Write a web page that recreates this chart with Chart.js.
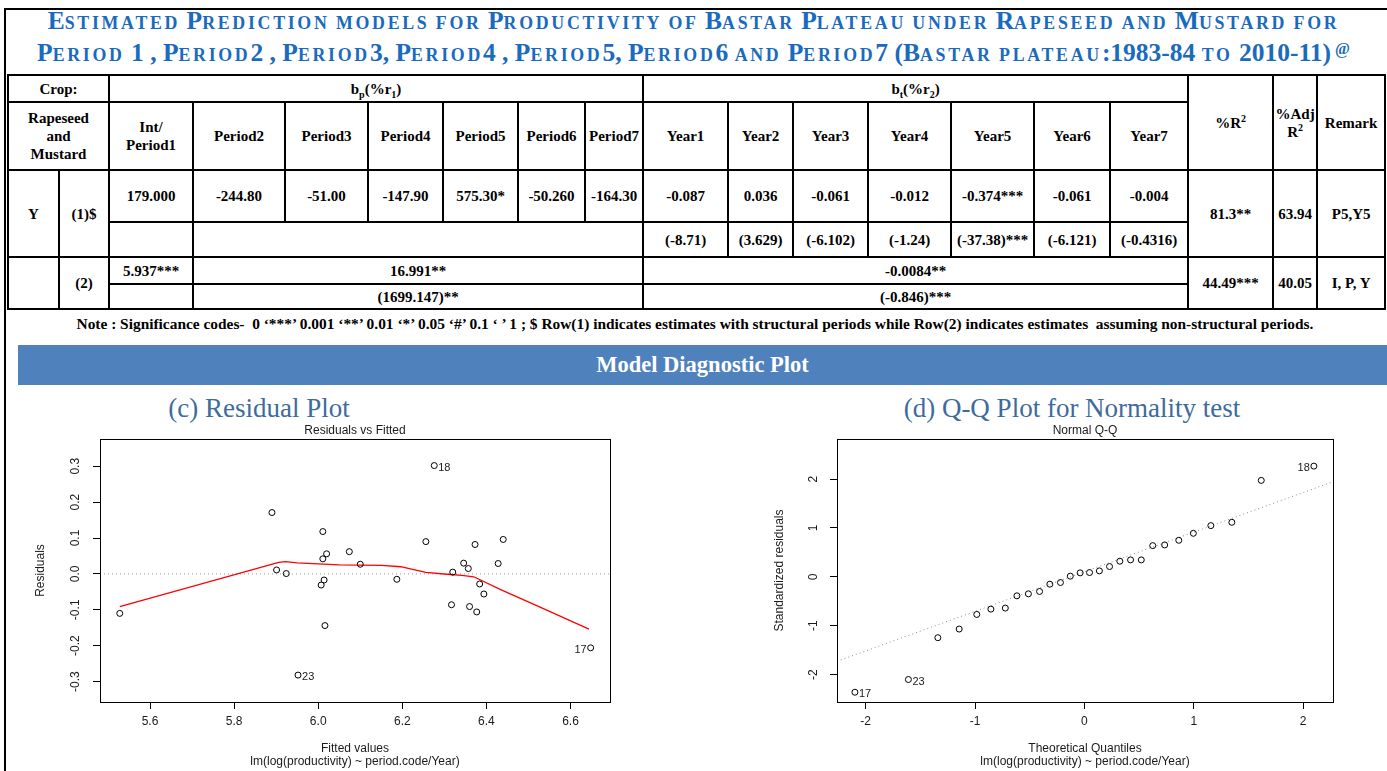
<!DOCTYPE html>
<html><head><meta charset="utf-8">
<script src="https://cdn.jsdelivr.net/npm/chart.js@4.4.1/dist/chart.umd.min.js"></script>
<style>
html,body{margin:0;padding:0;background:#fff;}
body{width:1387px;height:771px;position:relative;overflow:hidden;font-family:'Liberation Serif','Times New Roman',serif;}
#frame{position:absolute;left:4px;top:8px;width:1383px;height:763px;border-top:2px solid #000;border-left:2px solid #000;box-sizing:border-box;}
#title{position:absolute;left:0;top:6px;width:1387px;text-align:center;color:#1a6abd;font-weight:bold;font-size:25.5px;line-height:30px;white-space:nowrap;}
#title .sc{font-size:0.7em;text-transform:uppercase;letter-spacing:2.7px;}
#title sup{font-size:16px;vertical-align:top;position:relative;top:-4px;margin-left:4px;}
#tbl{position:absolute;left:7px;top:74px;border-collapse:collapse;table-layout:fixed;width:1377px;font-weight:bold;font-size:15px;}
#tbl td{border:2px solid #000;text-align:center;vertical-align:middle;padding:0;line-height:18px;overflow:hidden;white-space:nowrap;}
#tbl sub,#tbl sup{font-size:10px;line-height:0;}
#note{position:absolute;left:0;top:315px;width:1390px;text-align:center;font-weight:bold;font-size:15.4px;line-height:18px;white-space:nowrap;}
#banner{position:absolute;left:18px;top:345px;width:1369px;height:40px;background:#4f81bd;color:#fff;font-weight:bold;font-size:22.5px;line-height:40px;text-align:center;}
.sub{position:absolute;top:393px;font-size:27px;line-height:30px;color:#3d6b9c;white-space:nowrap;transform:translateX(-50%);}
canvas{position:absolute;top:420px;}
</style>
</head><body>
<div id="frame"></div>
<div id="title"><span id="t1">Estimated Prediction models for Productivity of Bastar Plateau under Rapeseed and Mustard for</span><br><span id="t2">Period 1 , Period2 , Period3, Period4 , Period5, Period6 and Period7 (Bastar plateau:1983-84 to 2010-11)</span><sup>@</sup></div>
<table id="tbl">
<colgroup>
<col style="width:51px"><col style="width:50px"><col style="width:84px"><col style="width:92px"><col style="width:83px"><col style="width:75px"><col style="width:75px"><col style="width:67px"><col style="width:58px"><col style="width:85px"><col style="width:65px"><col style="width:75px"><col style="width:83px"><col style="width:83px"><col style="width:76px"><col style="width:78px"><col style="width:85px"><col style="width:44px"><col style="width:68px">
</colgroup>
<tr style="height:27px"><td colspan="2">Crop:</td><td colspan="7">b<sub>p</sub>(%r<sub>1</sub>)</td><td colspan="7">b<sub>t</sub>(%r<sub>2</sub>)</td><td rowspan="2">%R<sup>2</sup></td><td rowspan="2">%Adj<br>R<sup>2</sup></td><td rowspan="2">Remark</td></tr>
<tr style="height:68px"><td colspan="2">Rapeseed<br>and<br>Mustard</td><td>Int/<br>Period1</td><td>Period2</td><td>Period3</td><td>Period4</td><td>Period5</td><td>Period6</td><td>Period7</td><td>Year1</td><td>Year2</td><td>Year3</td><td>Year4</td><td>Year5</td><td>Year6</td><td>Year7</td></tr>
<tr style="height:52px"><td rowspan="2">Y</td><td rowspan="2">(1)$</td><td>179.000</td><td>-244.80</td><td>-51.00</td><td>-147.90</td><td>575.30*</td><td>-50.260</td><td>-164.30</td><td>-0.087</td><td>0.036</td><td>-0.061</td><td>-0.012</td><td>-0.374***</td><td>-0.061</td><td>-0.004</td><td rowspan="2">81.3**</td><td rowspan="2">63.94</td><td rowspan="2">P5,Y5</td></tr>
<tr style="height:35px"><td></td><td colspan="6"></td><td>(-8.71)</td><td>(3.629)</td><td>(-6.102)</td><td>(-1.24)</td><td>(-37.38)***</td><td>(-6.121)</td><td>(-0.4316)</td></tr>
<tr style="height:27px"><td rowspan="2"></td><td rowspan="2">(2)</td><td>5.937***</td><td colspan="6">16.991**</td><td colspan="7">-0.0084**</td><td rowspan="2">44.49***</td><td rowspan="2">40.05</td><td rowspan="2">I, P, Y</td></tr>
<tr style="height:25px"><td></td><td colspan="6">(1699.147)**</td><td colspan="7">(-0.846)***</td></tr>
</table>
<div id="note">Note : Significance codes-&nbsp; 0 ‘***’ 0.001 ‘**’ 0.01 ‘*’ 0.05 ‘#’ 0.1 ‘ ’ 1 ; $ Row(1) indicates estimates with structural periods while Row(2) indicates estimates&nbsp; assuming non-structural periods.</div>
<div id="banner">Model Diagnostic Plot</div>
<div class="sub" style="left:259px">(c) Residual Plot</div>
<div class="sub" style="left:1072px">(d) Q-Q Plot for Normality test</div>
<canvas id="c1" width="640" height="351" style="left:0px"></canvas>
<canvas id="c2" width="647" height="351" style="left:740px"></canvas>
<script>
// ---------- Residuals vs Fitted ----------
const residFitted = [5.528,5.890,5.901,5.924,5.952,6.011,6.011,6.020,6.014,6.007,6.016,6.074,6.100,6.187,6.256,6.276,6.317,6.320,6.346,6.357,6.360,6.373,6.377,6.384,6.394,6.428,6.440,6.648];
const residValues = [-0.110,0.171,0.011,0.001,-0.282,0.118,0.042,0.056,-0.017,-0.031,-0.144,0.062,0.027,-0.015,0.090,0.302,-0.086,0.005,0.030,0.015,-0.091,0.082,-0.106,-0.028,-0.056,0.029,0.096,-0.206];
const lowessX = [5.528,5.906,5.922,5.950,6.050,6.151,6.196,6.256,6.306,6.342,6.370,6.434,6.525,6.644];
const lowessY = [-0.091,0.032,0.034,0.031,0.025,0.024,0.020,0.004,-0.001,-0.004,-0.008,-0.044,-0.091,-0.154];
const residXRange = [5.481, 6.694];
const residYRange = [-0.357, 0.376];
const residXTicks = [5.6,5.8,6.0,6.2,6.4,6.6];
const residXTickLabels = ['5.6','5.8','6.0','6.2','6.4','6.6'];
const residYTicks = [0.3,0.2,0.1,0.0,-0.1,-0.2,-0.3];
const residYTickLabels = ['0.3','0.2','0.1','0.0','-0.1','-0.2','-0.3'];
const residLabelIdx = [15,4,27];
const residLabelText = ['18','23','17'];
const residLabelSide = ['right','right','left'];

// ---------- Normal Q-Q ----------
const qqTheoretical = [-2.098,-1.609,-1.340,-1.145,-0.984,-0.855,-0.723,-0.617,-0.512,-0.410,-0.316,-0.219,-0.129,-0.039,0.047,0.137,0.230,0.324,0.422,0.520,0.625,0.734,0.863,0.996,1.156,1.348,1.617,2.098];
const qqStdResid = [-2.36,-2.10,-1.245,-1.068,-0.769,-0.660,-0.639,-0.388,-0.347,-0.299,-0.150,-0.116,0.014,0.082,0.088,0.122,0.211,0.320,0.347,0.347,0.639,0.653,0.748,0.891,1.048,1.116,1.973,2.265];
const qqLineX = [-2.262, 2.273];
const qqLineY = [-1.728, 1.946];
const qqXRange = [-2.262, 2.273];
const qqYRange = [-2.56, 2.82];
const qqXTicks = [-2,-1,0,1,2];
const qqXTickLabels = ['-2','-1','0','1','2'];
const qqYTicks = [2,1,0,-1,-2];
const qqYTickLabels = ['2','1','0','-1','-2'];
const qqLabelIdx = [0,1,27];
const qqLabelText = ['17','23','18'];
const qqLabelSide = ['right','right','left'];

// small caps for the title: lowercase runs rendered as smaller capitals (text stays as written)
['t1','t2'].forEach(id => {
  const el = document.getElementById(id);
  const txt = el.textContent;
  el.textContent = '';
  txt.split(/([a-z]+)/).forEach(part => {
    if (!part) return;
    if (/^[a-z]+$/.test(part)) { const s = document.createElement('span'); s.className = 'sc'; s.textContent = part; el.appendChild(s); }
    else el.appendChild(document.createTextNode(part));
  });
});

const SANS = '"Liberation Sans", Arial, sans-serif';
const zip = (xs, ys) => xs.map((x, i) => ({x, y: ys[i]}));

const rDecor = {
  id: 'rDecor',
  afterDraw(chart, args, o) {
    const {ctx, chartArea: a, scales: {y}} = chart;
    ctx.save();
    ctx.strokeStyle = '#000'; ctx.lineWidth = 1;
    ctx.strokeRect(Math.round(a.left) + 0.5, Math.round(a.top) + 0.5, Math.round(a.right - a.left), Math.round(a.bottom - a.top));
    ctx.fillStyle = '#1a1a1a';
    ctx.font = '12px ' + SANS;
    ctx.textAlign = 'center'; ctx.textBaseline = 'middle';
    const cx = (a.left + a.right) / 2;
    ctx.fillText(o.title, cx, o.titleY);
    ctx.fillText(o.xTitle, cx, o.xTitleY);
    ctx.fillText(o.xSub, cx, o.xSubY);
    ctx.save(); ctx.translate(o.yTitleX, (a.top + a.bottom) / 2); ctx.rotate(-Math.PI / 2); ctx.fillText(o.yTitle, 0, 0); ctx.restore();
    o.yTicks.forEach((v, i) => {
      const py = y.getPixelForValue(v);
      ctx.save(); ctx.translate(o.yTickX, py); ctx.rotate(-Math.PI / 2); ctx.fillText(o.yTickLabels[i], 0, 0); ctx.restore();
    });
    const meta = chart.getDatasetMeta(0);
    ctx.font = '11px ' + SANS;
    o.labelIdx.forEach((idx, k) => {
      const el = meta.data[idx];
      const right = o.labelSide[k] === 'right';
      ctx.textAlign = right ? 'left' : 'right';
      ctx.fillText(o.labelText[k], el.x + (right ? 4 : -4), el.y + 2);
    });
    ctx.restore();
  }
};

function makeChart(id, cfg) {
  const axisCommon = {
    type: 'linear',
    grid: {drawOnChartArea: false, drawTicks: true, tickLength: 7, color: '#000', lineWidth: 1},
    border: {display: false}
  };
  return new Chart(document.getElementById(id), {
    type: 'scatter',
    data: {datasets: cfg.datasets},
    options: {
      responsive: false, animation: false, devicePixelRatio: 1,
      layout: {padding: {left: 0, right: cfg.padRight, top: 19, bottom: 0}},
      plugins: {legend: {display: false}, tooltip: {enabled: false}, rDecor: cfg.decor},
      scales: {
        x: Object.assign({}, axisCommon, {
          min: cfg.xRange[0], max: cfg.xRange[1],
          afterBuildTicks: s => { s.ticks = cfg.xTicks.map(v => ({value: v})); },
          afterFit: s => { s.height = 69; },
          ticks: {autoSkip: false, maxRotation: 0, minRotation: 0, padding: 5, color: '#1a1a1a', font: {family: SANS, size: 12},
                  callback: (v, i) => cfg.xTickLabels[i]}
        }),
        y: Object.assign({}, axisCommon, {
          min: cfg.yRange[0], max: cfg.yRange[1],
          afterBuildTicks: s => { s.ticks = cfg.yTicks.map(v => ({value: v})); },
          afterFit: s => { s.width = cfg.yWidth; },
          ticks: {autoSkip: false, color: 'rgba(0,0,0,0)', font: {family: SANS, size: 12}}
        })
      }
    },
    plugins: [rDecor]
  });
}

const pointStyle = {showLine: false, pointRadius: 3, pointBorderWidth: 1, pointBorderColor: '#000', pointBackgroundColor: 'rgba(0,0,0,0)', pointStyle: 'circle', order: 0};

makeChart('c1', {
  xRange: residXRange, yRange: residYRange,
  xTicks: residXTicks, xTickLabels: residXTickLabels, yTicks: residYTicks,
  yWidth: 100, padRight: 30,
  datasets: [
    Object.assign({label: 'Residuals', data: zip(residFitted, residValues)}, pointStyle),
    {label: 'lowess', data: zip(lowessX, lowessY), showLine: true, borderColor: '#ff0000', borderWidth: 1.3, pointRadius: 0, tension: 0, order: 1},
    {label: 'zero', data: zip(residXRange, [0, 0]), showLine: true, borderColor: '#9a9a9a', borderWidth: 1, borderDash: [1, 3], pointRadius: 0, order: 2}
  ],
  decor: {title: 'Residuals vs Fitted', titleY: 11, xTitle: 'Fitted values', xTitleY: 329,
          xSub: 'lm(log(productivity) ~ period.code/Year)', xSubY: 342,
          yTitle: 'Residuals', yTitleX: 41, yTickX: 76, yTicks: residYTicks, yTickLabels: residYTickLabels,
          labelIdx: residLabelIdx, labelText: residLabelText, labelSide: residLabelSide}
});

makeChart('c2', {
  xRange: qqXRange, yRange: qqYRange,
  xTicks: qqXTicks, xTickLabels: qqXTickLabels, yTicks: qqYTicks,
  yWidth: 97, padRight: 54,
  datasets: [
    Object.assign({label: 'Std residuals', data: zip(qqTheoretical, qqStdResid)}, pointStyle),
    {label: 'qqline', data: zip(qqLineX, qqLineY), showLine: true, borderColor: '#8a8a8a', borderWidth: 1, borderDash: [1, 3], pointRadius: 0, order: 1}
  ],
  decor: {title: 'Normal Q-Q', titleY: 11, xTitle: 'Theoretical Quantiles', xTitleY: 329,
          xSub: 'lm(log(productivity) ~ period.code/Year)', xSubY: 342,
          yTitle: 'Standardized residuals', yTitleX: 40, yTickX: 74, yTicks: qqYTicks, yTickLabels: qqYTickLabels,
          labelIdx: qqLabelIdx, labelText: qqLabelText, labelSide: qqLabelSide}
});
</script>
</body></html>
